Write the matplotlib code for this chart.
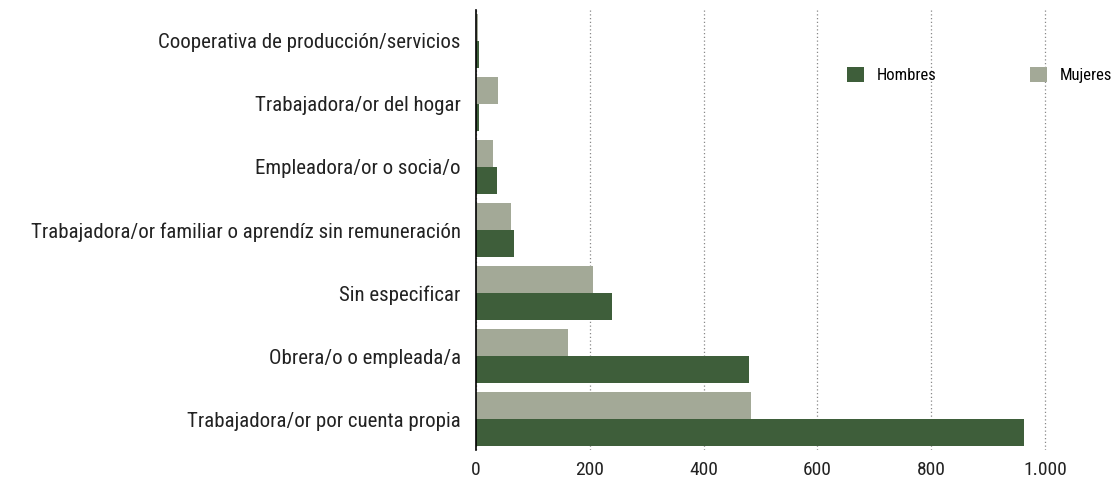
import numpy as np
import matplotlib.pyplot as plt
from matplotlib.ticker import FuncFormatter

plt.rcParams['font.family'] = ['Roboto Condensed', 'DejaVu Sans']
plt.rcParams['font.weight'] = 'normal'

categorias = ['Trabajadora/or por cuenta propia',
              'Obrera/o o empleada/a',
              'Sin especificar',
              'Trabajadora/or familiar o aprendíz sin remuneración',
              'Empleadora/or o socia/o',
              'Trabajadora/or del hogar',
              'Cooperativa de producción/servicios']
hombres = [963, 480, 239, 67, 37, 5, 5]
mujeres = [483, 162, 205, 62, 30, 39, 3]

c_hombres = '#3e5e3a'
c_mujeres = '#a3a997'

fig = plt.figure(figsize=(11.18, 4.86), dpi=100)
ax = fig.add_axes([476/1118, 1-450/486, (1050-476)/1118, 440/486])

y = np.arange(len(categorias))
h = 0.43
b1 = ax.barh(y - h/2, hombres, height=h, color=c_hombres, label='Hombres', zorder=2)
b2 = ax.barh(y + h/2, mujeres, height=h, color=c_mujeres, label='Mujeres', zorder=2)

ax.set_xlim(0, 1000 * (1050-476) / (1045-476))
ax.set_ylim(-0.49, 6.49)
ax.set_xticks([0, 200, 400, 600, 800, 1000])
ax.xaxis.set_major_formatter(FuncFormatter(lambda v, p: f'{int(v):,}'.replace(',', '.')))
ax.set_yticks(y)
ax.set_yticklabels(categorias, fontsize=15, color='#222222')
ax.tick_params(axis='y', length=0, pad=11)
ax.tick_params(axis='x', length=0, pad=8, labelsize=14, labelcolor='#222222')
ax.grid(axis='x', linestyle=(0, (1, 2)), color='#888888', linewidth=0.9, zorder=0)
for s in ['top', 'right', 'bottom']:
    ax.spines[s].set_visible(False)
ax.spines['left'].set_color('black')
ax.spines['left'].set_linewidth(1.2)
ax.spines['left'].set_zorder(3)

fig.legend(handles=[b1, b2], labels=['Hombres', 'Mujeres'], loc='center left',
           bbox_to_anchor=(847/1118, 1-75/486), ncol=2, frameon=False,
           fontsize=12, handlelength=1.0, handleheight=1.0, handletextpad=0.8,
           columnspacing=5.6, borderaxespad=0, borderpad=0)

fig.savefig('out.png', dpi=100)
